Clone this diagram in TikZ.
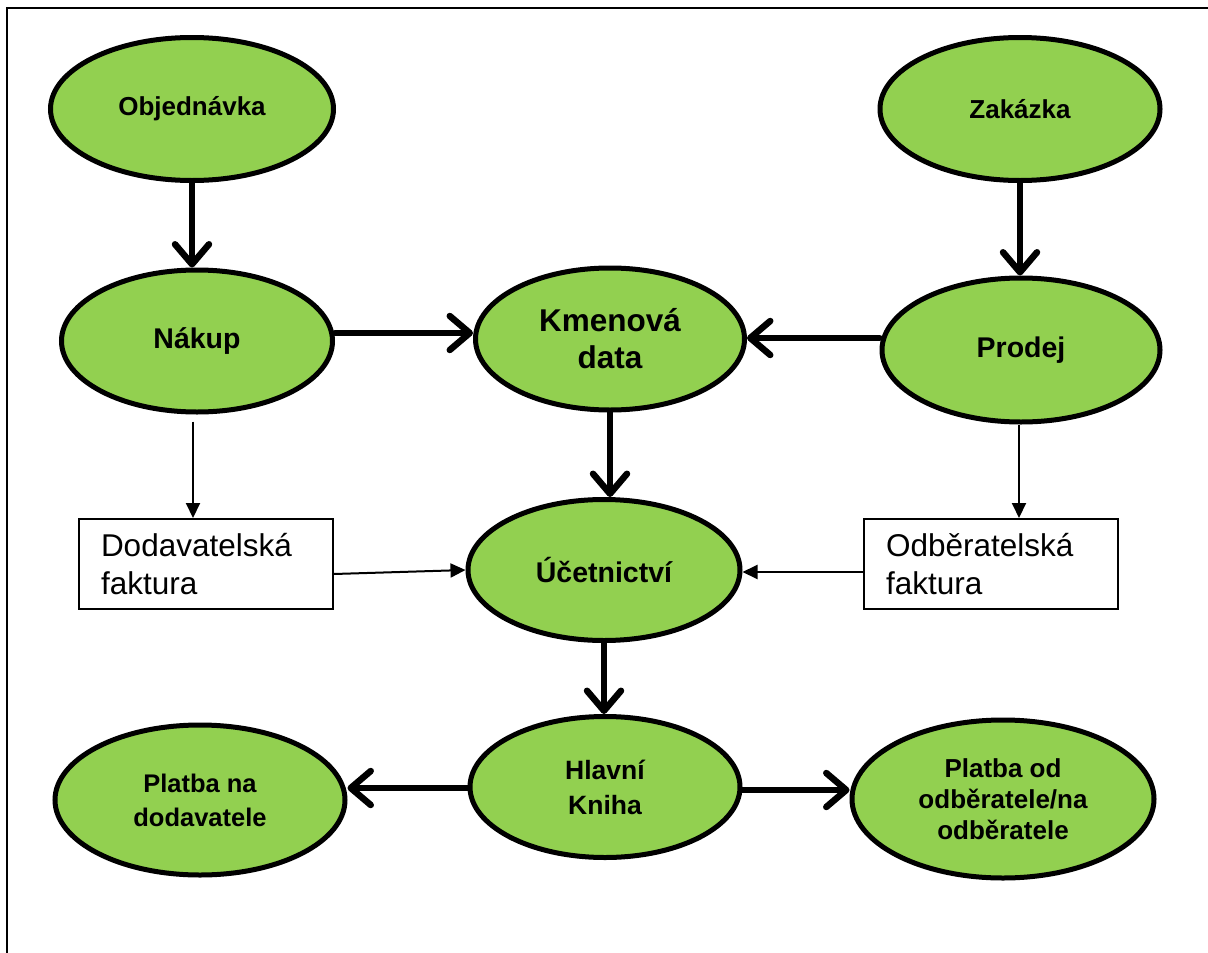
\documentclass[tikz,border=0pt]{standalone}
\usepackage{fontspec}
\setmainfont{Liberation Sans}
\usetikzlibrary{arrows.meta,shapes.geometric}
\definecolor{leaf}{HTML}{92D050}
\begin{document}
\begin{tikzpicture}[x=1pt,y=-1pt,
  oval/.style={ellipse,draw=black,line width=5pt,fill=leaf,inner sep=0pt,
    font=\fontsize{26}{31}\selectfont\bfseries,align=center},
  bigtext/.style={font=\fontsize{28.5}{34}\selectfont\bfseries},
  invbox/.style={rectangle,draw=black,line width=2pt,fill=white,inner sep=0pt,
    minimum width=254pt,minimum height=90pt,
    font=\fontsize{31.5}{38}\selectfont,align=left,text width=210pt},
  bigarrow/.style={line width=6.5pt,line cap=round,
    -{Straight Barb[length=20pt,width=34pt,round]}},
  smallarrow/.style={line width=2pt,-{Triangle[length=15pt,width=14pt]}}]
\useasboundingbox (0,0) rectangle (1208,953);
\draw[line width=2.2pt] (7,953) -- (7,8) -- (1208,8);

\node[oval,minimum width=283pt,minimum height=143pt] (obj) at (192,109) {Objedn\'avka};
\node[oval,minimum width=280pt,minimum height=143pt] (zak) at (1020,109) {Zak\'azka};
\node[oval,bigtext,minimum width=271pt,minimum height=142pt] (nak) at (197,341) {N\'akup};
\node[oval,minimum width=269pt,minimum height=142pt,font=\fontsize{31.5}{37}\selectfont\bfseries] (km) at (610,339) {Kmenov\'a\\data};
\node[oval,bigtext,minimum width=278pt,minimum height=144pt] (pro) at (1021,350) {Prodej};
\node[oval,bigtext,minimum width=272pt,minimum height=141pt] (uc) at (604,570) {\'U\v{c}etnictv\'i};
\node[oval,font=\fontsize{26.5}{35}\selectfont\bfseries,minimum width=270pt,minimum height=141pt] (hk) at (605,787) {Hlavn\'i\\Kniha};
\node[oval,font=\fontsize{25.5}{34}\selectfont\bfseries,minimum width=290pt,minimum height=150pt] (pnd) at (200,800) {Platba na\\dodavatele};
\node[oval,minimum width=302pt,minimum height=158pt] (pod) at (1003,799) {Platba od\\odb\v{e}ratele/na\\odb\v{e}ratele};

\node[invbox] (dod) at (206,564) {Dodavatelsk\'a\\faktura};
\node[invbox] (odb) at (991,564) {Odb\v{e}ratelsk\'a\\faktura};

\draw[bigarrow] (obj.south) -- (obj.south |- nak.north);
\draw[bigarrow] (zak.south) -- (zak.south |- pro.north);
\draw[bigarrow] ([yshift=8pt]nak.east) -- ([yshift=8pt]nak.east -| km.west);
\draw[bigarrow] ([yshift=12pt]pro.west) -- ([yshift=12pt]pro.west -| km.east);
\draw[bigarrow] (km.south) -- (km.south |- uc.north);
\draw[bigarrow] (uc.south) -- (uc.south |- hk.north);
\draw[bigarrow] ([yshift=-1pt]hk.west) -- ([yshift=-1pt]hk.west -| pnd.east);
\draw[bigarrow] ([yshift=-3pt]hk.east) -- ([yshift=-3pt]hk.east -| pod.west);

\draw[smallarrow] ([xshift=-4pt,yshift=-7pt]nak.south) -- ([xshift=-4pt]nak.south |- dod.north);
\draw[smallarrow] ([xshift=-2pt]pro.south) -- ([xshift=-2pt]pro.south |- odb.north);
\draw[smallarrow] ([yshift=-10pt]dod.east) -- (uc.west);
\draw[smallarrow] ([yshift=-8pt]odb.west) -- ([yshift=-2pt]uc.east);
\end{tikzpicture}
\end{document}
